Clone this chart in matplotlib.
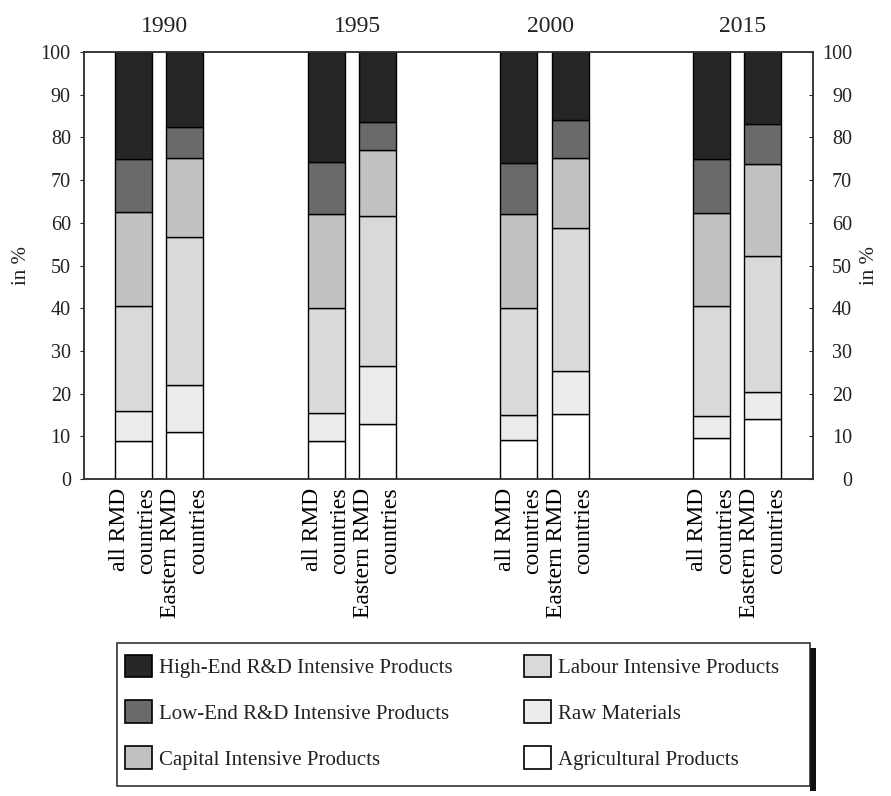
import numpy as np
import matplotlib.pyplot as plt
from matplotlib.patches import Patch, Rectangle

plt.rcParams['font.family'] = ['Liberation Serif', 'DejaVu Serif']
plt.rcParams['text.color'] = '#222222'

# data (shares in %)
years = ['1990', '1995', '2000', '2015']
bar_labels = ['all RMD\ncountries', 'Eastern RMD\ncountries']
# bar order: 1990 all, 1990 east, 1995 all, 1995 east, 2000 all, 2000 east, 2015 all, 2015 east
agricultural = [9.0, 11.0, 9.0, 12.8, 9.2, 15.2, 9.5, 14.0]
raw_materials = [7.0, 11.0, 6.4, 13.7, 5.8, 10.2, 5.2, 6.3]
labour = [24.5, 34.8, 24.6, 35.0, 25.0, 33.3, 25.8, 32.0]
capital = [22.0, 18.4, 22.0, 15.5, 22.0, 16.5, 21.7, 21.5]
low_end = [12.5, 7.3, 12.3, 6.7, 12.0, 8.8, 12.8, 9.4]
high_end = [25.0, 17.5, 25.7, 16.3, 26.0, 16.0, 25.0, 16.8]

series = [
    ('Agricultural Products', agricultural, '#ffffff'),
    ('Raw Materials', raw_materials, '#ececec'),
    ('Labour Intensive Products', labour, '#d9d9d9'),
    ('Capital Intensive Products', capital, '#c2c2c2'),
    ('Low-End R&D Intensive Products', low_end, '#6a6a6a'),
    ('High-End R&D Intensive Products', high_end, '#262626'),
]

fig = plt.figure(figsize=(8.91, 7.96), dpi=100)
ax = fig.add_axes([0.0943, 0.3982, 0.8182, 0.5364])

groups = np.arange(len(years))
offsets = [-0.133, 0.133]
x = np.array([g + o for g in groups for o in offsets])

bottom = np.zeros(len(x))
for name, vals, col in series:
    ax.bar(x, vals, width=0.192, bottom=bottom, color=col,
           edgecolor='black', linewidth=1.0)
    bottom += np.array(vals)

ax.set_xlim(-0.389, 3.394)
ax.set_ylim(0, 100)
ax.set_yticks(np.arange(0, 101, 10))
ax.set_xticks(x)
ax.set_xticklabels(bar_labels * len(years), rotation=90, fontsize=17,
                   va='top', ha='center', multialignment='right', linespacing=1.4)
ax.tick_params(axis='x', length=0, pad=6)
ax.tick_params(axis='y', direction='out', length=3, pad=6.5, labelsize=14.5,
               colors='#222222')

for sp in ax.spines.values():
    sp.set_color('#333333')
    sp.set_linewidth(1.1)

# right axis
ax2 = ax.twinx()
ax2.set_ylim(0, 100)
ax2.set_yticks(np.arange(0, 101, 10))
ax2.tick_params(axis='y', direction='in', length=3, pad=28, labelsize=14.5,
                colors='#222222')
for lbl in ax2.get_yticklabels():
    lbl.set_horizontalalignment('right')
for sp in ax2.spines.values():
    sp.set_color('#333333')
    sp.set_linewidth(1.1)

# year labels above groups
for g, yr in zip(groups, years):
    ax.text(g + 0.03, 106, yr, ha='center', va='center', fontsize=17,
            clip_on=False)

fig.text(22 / 891, 1 - 265 / 796, 'in %', rotation=90, ha='center',
         va='center', fontsize=15)
fig.text(870 / 891, 1 - 265 / 796, 'in %', rotation=90, ha='center',
         va='center', fontsize=15)

# legend (top-down order of the stack)
handles = [Patch(facecolor=col, edgecolor='black', linewidth=1.2)
           for name, vals, col in series[::-1]]
names = [name for name, vals, col in series[::-1]]
fig.legend(handles, names, loc='upper left',
           bbox_to_anchor=(125 / 891, 1 - 654.5 / 796), ncol=2, frameon=False,
           fontsize=15, handlelength=1.3, handleheight=1.3, handletextpad=0.34,
           labelspacing=1.08, columnspacing=3.4, borderpad=0, borderaxespad=0)

# legend frame with shadow
fig.add_artist(Rectangle((810 / 891, 1 - 791 / 796), 6 / 891, (791 - 648) / 796,
                         transform=fig.transFigure, facecolor='#111111',
                         edgecolor='none'))
fig.add_artist(Rectangle((117 / 891, 1 - 786 / 796), (810 - 117) / 891,
                         (786 - 643) / 796, transform=fig.transFigure,
                         fill=False, edgecolor='#222222', linewidth=1.1))

plt.savefig('out.png', dpi=100)
